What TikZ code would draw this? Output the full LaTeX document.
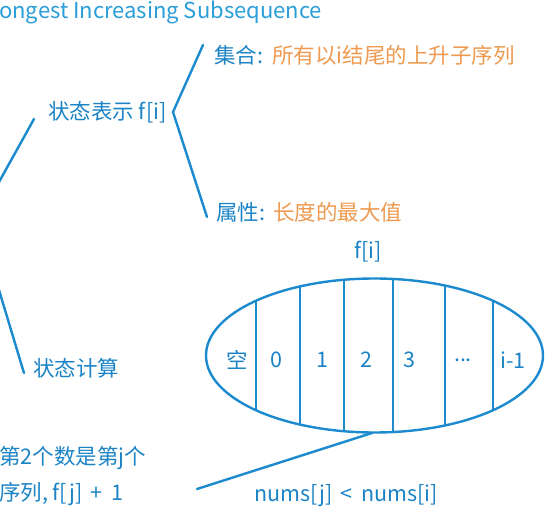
\documentclass[tikz,border=0pt]{standalone}
\usepackage{fontspec}
\usetikzlibrary{shapes.geometric}
\setmainfont{Noto Sans CJK SC}
\definecolor{lineblue}{HTML}{1B8ACF}
\definecolor{txtblue}{HTML}{1C84C6}
\definecolor{ttlblue}{HTML}{2A9ED8}
\definecolor{orng}{HTML}{EE9A50}
\tikzset{
  ln/.style={draw=lineblue, line width=2.4pt, line cap=round},
  bt/.style={text=txtblue, inner sep=0pt, anchor=west, font=\fontsize{21.5}{24}\selectfont},
  ot/.style={text=orng, inner sep=0pt, anchor=west, font=\fontsize{21.5}{24}\selectfont},
}
\begin{document}
\begin{tikzpicture}[x=1pt,y=-1pt]
\useasboundingbox[fill=white] (0,0) rectangle (550,519);
% title
\node[bt, text=ttlblue, font=\fontsize{22}{24}\selectfont] (title) at (-1,12) {ongest Increasing Subsequence};
% left branches
\coordinate (l1a) at (-1,182);
\coordinate (l1b) at (34,119);
\draw[ln] (l1a) -- (l1b);
\coordinate (l2a) at (-1,290);
\coordinate (l2b) at (24,373);
\draw[ln] (l2a) -- (l2b);
% state representation
\node[bt] (rep) at (48,112) {状态表示 f[i]};
\coordinate (bra) at (203,45);
\coordinate (brv) at (173,112);
\coordinate (brb) at (207,217);
\draw[ln, line join=round] (bra) -- (brv) -- (brb);
\node[bt] (set) at (214,55) {集合: };
\node[ot] (setd) at (272,55) {所有以i结尾的上升子序列};
\node[bt] (attr) at (216,212) {属性: };
\node[ot] (attrd) at (273,212) {长度的最大值};
% state computation
\node[bt] (calc) at (33,368) {状态计算};
% f[i]
\node[bt, anchor=center] (fi) at (368,252) {f[i]};
% ellipse
\node[draw=lineblue, line width=2.4pt, ellipse, minimum width=337pt, minimum height=154pt, inner sep=0pt] (ell) at (374.5,355.5) {};
\begin{scope}
\clip (374.5,355.5) ellipse [x radius=168.5pt, y radius=77pt];
\foreach \x in {256,300,344,393,445,493}{
  \draw[ln, line cap=butt] (\x,270) -- (\x,440);
}
\end{scope}
\node[bt, anchor=center] (c0) at (237,360) {空};
\node[bt, anchor=center] (c1) at (276,360) {0};
\node[bt, anchor=center] (c2) at (322,360) {1};
\node[bt, anchor=center] (c3) at (366,360) {2};
\node[bt, anchor=center] (c4) at (409,360) {3};
\node[bt, anchor=center] (c5) at (463,360) {...};
\node[bt, anchor=center] (c6) at (513,360) {i-1};
% bottom
\coordinate (bt1) at (372,433);
\coordinate (bt2) at (197,489);
\draw[ln] (bt1) -- (bt2);
\node[bt] (d1) at (-1,458) {第2个数是第j个};
\node[bt] (d2) at (-1,494) {序列, f[j] \,+\, 1};
\node[bt, anchor=center] (cond) at (346,496) {nums[j] \,<\, nums[i]};
\end{tikzpicture}
\end{document}
